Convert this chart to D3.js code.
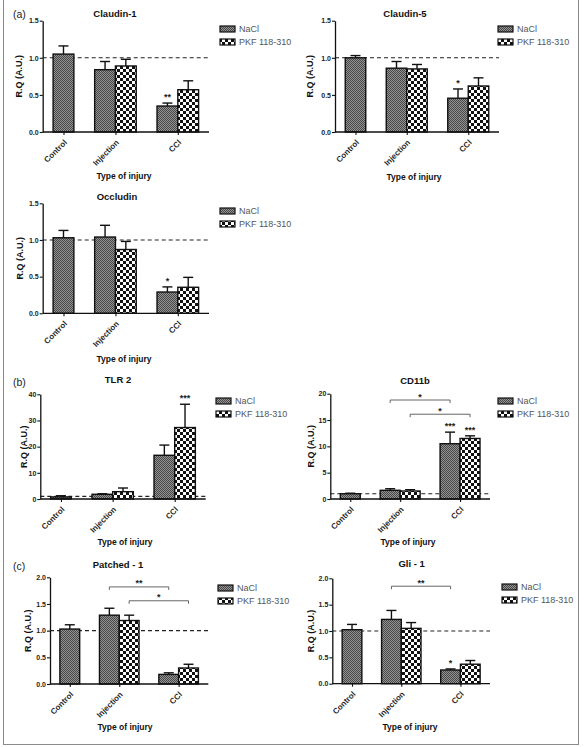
<!DOCTYPE html>
<html>
<head>
<meta charset="utf-8">
<script src="https://cdn.jsdelivr.net/npm/d3@7"></script>
<style>
  html, body { margin: 0; padding: 0; background: #fff; }
  svg { display: block; font-family: "Liberation Sans", Arial, sans-serif; }
</style>
</head>
<body>
<svg id="fig" width="585" height="747"></svg>
<script>
// ---------------- DATA ----------------
const categories = ["Control", "Injection", "CCl"];
const seriesNames = ["NaCl", "PKF 118-310"];
const xAxisTitle = "Type of injury";
const yAxisTitle = "R.Q (A.U.)";

// Claudin-1
const claudin1NaCl = [1.05, 0.84, 0.35];
const claudin1NaClErr = [0.11, 0.11, 0.04];
const claudin1PKF = [null, 0.89, 0.57];
const claudin1PKFErr = [null, 0.09, 0.12];
const claudin1NaClSig = ["", "", "**"];
const claudin1PKFSig = ["", "", ""];

// Claudin-5
const claudin5NaCl = [1.00, 0.86, 0.455];
const claudin5NaClErr = [0.03, 0.09, 0.125];
const claudin5PKF = [null, 0.85, 0.62];
const claudin5PKFErr = [null, 0.06, 0.11];
const claudin5NaClSig = ["", "", "*"];
const claudin5PKFSig = ["", "", ""];

// Occludin
const occludinNaCl = [1.03, 1.04, 0.29];
const occludinNaClErr = [0.10, 0.16, 0.07];
const occludinPKF = [null, 0.87, 0.355];
const occludinPKFErr = [null, 0.11, 0.135];
const occludinNaClSig = ["", "", "*"];
const occludinPKFSig = ["", "", ""];

// TLR 2
const tlr2NaCl = [0.8, 1.8, 16.7];
const tlr2NaClErr = [0.45, 0.2, 3.9];
const tlr2PKF = [null, 2.8, 27.3];
const tlr2PKFErr = [null, 1.4, 8.9];
const tlr2NaClSig = ["", "", ""];
const tlr2PKFSig = ["", "", "***"];

// CD11b
const cd11bNaCl = [1.0, 1.65, 10.5];
const cd11bNaClErr = [0.1, 0.3, 2.2];
const cd11bPKF = [null, 1.52, 11.5];
const cd11bPKFErr = [null, 0.25, 0.5];
const cd11bNaClSig = ["", "", "***"];
const cd11bPKFSig = ["", "", "***"];
const cd11bBrackets = [
  { from: "Injection", to: "CCl", series: 0, level: 18.8, label: "*" },
  { from: "Injection", to: "CCl", series: 1, level: 16.1, label: "*" }
];

// Patched - 1
const patchedNaCl = [1.03, 1.29, 0.18];
const patchedNaClErr = [0.08, 0.13, 0.03];
const patchedPKF = [null, 1.19, 0.30];
const patchedPKFErr = [null, 0.10, 0.07];
const patchedNaClSig = ["", "", ""];
const patchedPKFSig = ["", "", ""];
const patchedBrackets = [
  { from: "Injection", to: "CCl", series: 0, level: 1.82, label: "**" },
  { from: "Injection", to: "CCl", series: 1, level: 1.56, label: "*" }
];

// Gli - 1
const gliNaCl = [1.025, 1.22, 0.26];
const gliNaClErr = [0.10, 0.17, 0.02];
const gliPKF = [null, 1.05, 0.37];
const gliPKFErr = [null, 0.11, 0.07];
const gliNaClSig = ["", "", "*"];
const gliPKFSig = ["", "", ""];
const gliBrackets = [
  { from: "Injection", to: "CCl", series: 0, level: 1.85, label: "**" }
];

// tick values
const ticksJunction = [0, 0.5, 1.0, 1.5];
const ticksTLR2 = [0, 10, 20, 30, 40];
const ticksCD11b = [0, 5, 10, 15, 20];
const ticksHedgehog = [0, 0.5, 1.0, 1.5, 2.0];
const referenceLevel = 1.0;

const sectionLabels = ["(a)", "(b)", "(c)"];

// ---------------- DRAWING ----------------
const svg = d3.select("#fig");
const defs = svg.append("defs");

const patN = defs.append("pattern").attr("id", "patNaCl")
  .attr("patternUnits", "userSpaceOnUse").attr("width", 2).attr("height", 2);
patN.append("rect").attr("width", 2).attr("height", 2).attr("fill", "#949494");
patN.append("rect").attr("width", 1).attr("height", 1).attr("fill", "#474747");
patN.append("rect").attr("x", 1).attr("y", 1).attr("width", 1).attr("height", 1).attr("fill", "#474747");

const patP = defs.append("pattern").attr("id", "patPKF")
  .attr("patternUnits", "userSpaceOnUse").attr("width", 6).attr("height", 6);
patP.append("rect").attr("width", 6).attr("height", 6).attr("fill", "#ffffff");
patP.append("rect").attr("width", 3).attr("height", 3).attr("fill", "#111");
patP.append("rect").attr("x", 3).attr("y", 3).attr("width", 3).attr("height", 3).attr("fill", "#111");

const fills = ["url(#patNaCl)", "url(#patPKF)"];

// frame
svg.append("rect").attr("x", 3.5).attr("y", -5).attr("width", 575).attr("height", 749.5)
  .attr("fill", "none").attr("stroke", "#8a8a8a").attr("stroke-width", 1);

function panel(cfg) {
  const g = svg.append("g");
  const series = [
    { values: cfg.nacl, errs: cfg.naclErr, sig: cfg.naclSig },
    { values: cfg.pkf, errs: cfg.pkfErr, sig: cfg.pkfSig }
  ];
  const yMax = d3.max(cfg.ticks);
  const y = d3.scaleLinear().domain([0, yMax]).range([cfg.yBot, cfg.yTop]);

  // group layout: bars and gaps of equal width, half-gap outer padding
  const counts = categories.map((c, i) => series.filter(s => s.values[i] != null).length);
  const gapU = 1, padU = 0.5;
  const totalU = padU * 2 + d3.sum(counts) + gapU * (categories.length - 1);
  const u = d3.scaleLinear().domain([0, totalU]).range([cfg.x0, cfg.x1]);
  const starts = [];
  let acc = padU;
  counts.forEach((c, i) => { starts.push(acc); acc += c + gapU; });
  const bw = u(1) - u(0);
  const centers = categories.map((c, i) => u(starts[i] + counts[i] / 2));
  const xCenter = d3.scaleOrdinal().domain(categories).range(centers);
  const barX = (ci, si) => {
    let k = 0;
    for (let s = 0; s < si; s++) if (series[s].values[ci] != null) k++;
    return u(starts[ci] + k);
  };

  // reference dashed line
  g.append("line").attr("x1", cfg.x0).attr("x2", cfg.x1)
    .attr("y1", y(referenceLevel)).attr("y2", y(referenceLevel))
    .attr("stroke", "#222").attr("stroke-width", 1.1).attr("stroke-dasharray", "4,3");

  // bars + errors
  series.forEach((s, si) => {
    s.values.forEach((v, ci) => {
      if (v == null) return;
      const x = barX(ci, si);
      const cx = x + bw / 2;
      const top = y(v + s.errs[ci]);
      g.append("line").attr("x1", cx).attr("x2", cx).attr("y1", y(v)).attr("y2", top)
        .attr("stroke", "#111").attr("stroke-width", 1.4);
      g.append("line").attr("x1", cx - 5).attr("x2", cx + 5).attr("y1", top).attr("y2", top)
        .attr("stroke", "#111").attr("stroke-width", 1.4);
      g.append("rect").attr("x", x).attr("y", y(v)).attr("width", bw).attr("height", y(0) - y(v))
        .attr("fill", fills[si]).attr("stroke", "#111").attr("stroke-width", 1.4);
      if (s.sig[ci]) {
        g.append("text").attr("x", cx).attr("y", top - 3).attr("text-anchor", "middle")
          .attr("font-size", 9).attr("font-weight", "bold").attr("fill", "#222").text(s.sig[ci]);
      }
    });
  });

  // brackets
  (cfg.brackets || []).forEach(b => {
    const ci1 = categories.indexOf(b.from), ci2 = categories.indexOf(b.to);
    const xa = barX(ci1, b.series) + bw / 2, xb = barX(ci2, b.series) + bw / 2;
    const yy = y(b.level);
    g.append("path").attr("d", `M${xa},${yy + 3}V${yy}H${xb}V${yy + 3}`)
      .attr("fill", "none").attr("stroke", "#555").attr("stroke-width", 0.9);
    g.append("text").attr("x", (xa + xb) / 2).attr("y", yy - 0.5).attr("text-anchor", "middle")
      .attr("font-size", 9).attr("font-weight", "bold").attr("fill", "#222").text(b.label);
  });

  // y axis
  const yAxis = d3.axisLeft(y).tickValues(cfg.ticks).tickSize(3).tickSizeOuter(0).tickPadding(1)
    .tickFormat(cfg.fmt);
  const ya = g.append("g").attr("transform", `translate(${cfg.x0},0)`).call(yAxis);
  ya.select(".domain").attr("stroke", "#111").attr("stroke-width", 1.3);
  ya.selectAll(".tick line").attr("stroke", "#111").attr("stroke-width", 1.1);
  ya.selectAll(".tick text").attr("font-size", 7).attr("font-weight", "bold")
    .attr("fill", "#222").attr("font-family", "Liberation Sans, Arial, sans-serif");

  // x axis
  const xAxis = d3.axisBottom(xCenter).tickSize(3).tickSizeOuter(0).tickFormat("");
  const xa = g.append("g").attr("transform", `translate(0,${cfg.yBot})`).call(xAxis);
  xa.select(".domain").remove();
  xa.selectAll(".tick line").attr("stroke", "#111").attr("stroke-width", 1.1);
  g.append("line").attr("x1", cfg.x0).attr("x2", cfg.x1).attr("y1", cfg.yBot).attr("y2", cfg.yBot)
    .attr("stroke", "#111").attr("stroke-width", 1.3);
  categories.forEach(c => {
    g.append("text")
      .attr("transform", `translate(${xCenter(c) + 2},${cfg.yBot + 9}) rotate(-45)`)
      .attr("text-anchor", "end").attr("dy", "0.35em")
      .attr("font-size", 8).attr("font-weight", "bold").attr("fill", "#222").text(c);
  });

  // titles
  g.append("text").attr("x", cfg.titleX).attr("y", cfg.titleY).attr("text-anchor", "middle")
    .attr("font-size", 9.5).attr("font-weight", "bold").attr("fill", "#111").text(cfg.title);
  g.append("text").attr("x", cfg.xlabX).attr("y", cfg.xlabY).attr("text-anchor", "middle")
    .attr("font-size", 8.5).attr("font-weight", "bold").attr("fill", "#111").text(xAxisTitle);
  g.append("text").attr("transform", `translate(${cfg.ylabX},${(cfg.yTop + cfg.yBot) / 2}) rotate(-90)`)
    .attr("text-anchor", "middle").attr("dy", "0.35em")
    .attr("font-size", 9).attr("font-weight", "bold").attr("fill", "#111").text(yAxisTitle);

  // legend
  seriesNames.forEach((n, i) => {
    const ly = cfg.legY + i * 13;
    g.append("rect").attr("x", cfg.legX).attr("y", ly).attr("width", 15).attr("height", 6)
      .attr("fill", fills[i]).attr("stroke", "#111").attr("stroke-width", 1.2);
    g.append("text").attr("x", cfg.legX + 19).attr("y", ly + 3).attr("dy", "0.35em")
      .attr("font-size", 9).attr("fill", "#555").text(n);
  });
}

const f1 = d3.format(".1f"), f0 = d3.format("d");

panel({ title: "Claudin-1", nacl: claudin1NaCl, naclErr: claudin1NaClErr, naclSig: claudin1NaClSig,
  pkf: claudin1PKF, pkfErr: claudin1PKFErr, pkfSig: claudin1PKFSig, ticks: ticksJunction, fmt: f1,
  x0: 42.7, x1: 209, yTop: 20.7, yBot: 132, titleX: 115, titleY: 16.5, xlabX: 124, xlabY: 179,
  ylabX: 18.5, legX: 220, legY: 26 });
panel({ title: "Claudin-5", nacl: claudin5NaCl, naclErr: claudin5NaClErr, naclSig: claudin5NaClSig,
  pkf: claudin5PKF, pkfErr: claudin5PKFErr, pkfSig: claudin5PKFSig, ticks: ticksJunction, fmt: f1,
  x0: 335, x1: 499, yTop: 20.7, yBot: 132, titleX: 405, titleY: 16.5, xlabX: 414, xlabY: 179.5,
  ylabX: 310, legX: 498, legY: 26 });
panel({ title: "Occludin", nacl: occludinNaCl, naclErr: occludinNaClErr, naclSig: occludinNaClSig,
  pkf: occludinPKF, pkfErr: occludinPKFErr, pkfSig: occludinPKFSig, ticks: ticksJunction, fmt: f1,
  x0: 42.7, x1: 209, yTop: 203.3, yBot: 313.3, titleX: 117, titleY: 200, xlabX: 124, xlabY: 361.5,
  ylabX: 19.5, legX: 220, legY: 208 });
panel({ title: "TLR 2", nacl: tlr2NaCl, naclErr: tlr2NaClErr, naclSig: tlr2NaClSig,
  pkf: tlr2PKF, pkfErr: tlr2PKFErr, pkfSig: tlr2PKFSig, ticks: ticksTLR2, fmt: f0,
  x0: 40.3, x1: 205.7, yTop: 394.3, yBot: 499, titleX: 118, titleY: 382.5, xlabX: 125, xlabY: 545,
  ylabX: 24, legX: 216, legY: 398, brackets: [] });
panel({ title: "CD11b", nacl: cd11bNaCl, naclErr: cd11bNaClErr, naclSig: cd11bNaClSig,
  pkf: cd11bPKF, pkfErr: cd11bPKFErr, pkfSig: cd11bPKFSig, ticks: ticksCD11b, fmt: f0,
  x0: 330.3, x1: 490, yTop: 393.7, yBot: 499, titleX: 415, titleY: 383.5, xlabX: 408, xlabY: 545,
  ylabX: 311, legX: 498, legY: 398, brackets: cd11bBrackets });
panel({ title: "Patched  - 1", nacl: patchedNaCl, naclErr: patchedNaClErr, naclSig: patchedNaClSig,
  pkf: patchedPKF, pkfErr: patchedPKFErr, pkfSig: patchedPKFSig, ticks: ticksHedgehog, fmt: f1,
  x0: 50, x1: 208.3, yTop: 577.3, yBot: 684, titleX: 118, titleY: 567.5, xlabX: 125, xlabY: 730,
  ylabX: 28, legX: 218, legY: 585, brackets: patchedBrackets });
panel({ title: "Gli  - 1", nacl: gliNaCl, naclErr: gliNaClErr, naclSig: gliNaClSig,
  pkf: gliPKF, pkfErr: gliPKFErr, pkfSig: gliPKFSig, ticks: ticksHedgehog, fmt: f1,
  x0: 332.3, x1: 490, yTop: 578.3, yBot: 683.7, titleX: 411.7, titleY: 566.5, xlabX: 410, xlabY: 730,
  ylabX: 311, legX: 502, legY: 584, brackets: gliBrackets });

// section labels
[[13, 18], [13, 386], [13, 570]].forEach((p, i) => {
  svg.append("text").attr("x", p[0]).attr("y", p[1]).attr("font-size", 10.5)
    .attr("fill", "#222").text(sectionLabels[i]);
});
</script>
</body>
</html>
